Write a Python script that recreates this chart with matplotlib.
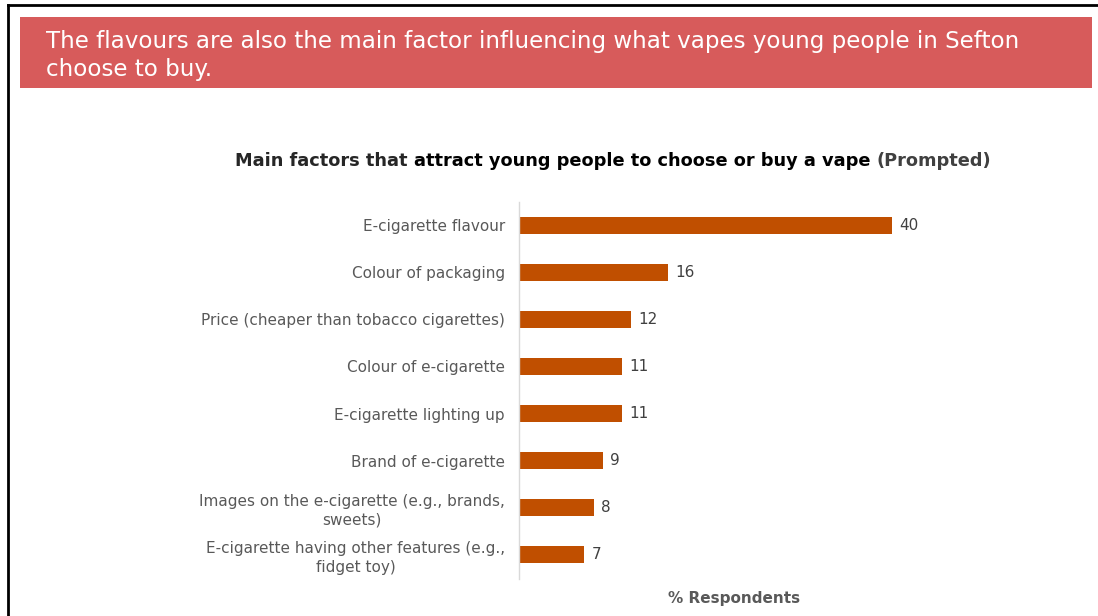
import matplotlib
matplotlib.use("Agg")
import matplotlib.pyplot as plt
from matplotlib.patches import Rectangle
from matplotlib.lines import Line2D

plt.rcParams["font.family"] = ["DejaVu Sans"]

# ── Data ──────────────────────────────────────────────────────────────────────
factors = [
    "E-cigarette flavour",
    "Colour of packaging",
    "Price (cheaper than tobacco cigarettes)",
    "Colour of e-cigarette",
    "E-cigarette lighting up",
    "Brand of e-cigarette",
    "Images on the e-cigarette (e.g., brands,\nsweets)",
    "E-cigarette having other features (e.g.,\nfidget toy)",
]
pct = [40, 16, 12, 11, 11, 9, 8, 7]

banner_text = ("The flavours are also the main factor influencing what vapes young people in Sefton\n"
               "choose to buy.")
title_parts = [
    ("Main factors that ", "#262626"),
    ("attract young people to choose or buy a vape ", "#000000"),
    ("(Prompted)", "#404040"),
]

W, H = 1098, 616
fig = plt.figure(figsize=(W / 100, H / 100), dpi=100)
fig.patch.set_facecolor("white")

# page frame
fig.add_artist(Line2D([8 / W, 8 / W], [0, 1 - 5 / H], transform=fig.transFigure,
                      color="black", linewidth=2))
fig.add_artist(Line2D([8 / W, 1], [1 - 5 / H, 1 - 5 / H], transform=fig.transFigure,
                      color="black", linewidth=2))

# red banner
fig.add_artist(Rectangle((20 / W, 1 - 88 / H), (1092 - 20) / W, 71 / H,
                         transform=fig.transFigure, facecolor="#D75B5B",
                         edgecolor="none"))
fig.text(46 / W, 1 - 55.5 / H, banner_text, color="white", fontsize=16.6,
         va="center", ha="left", linespacing=1.27)

# ── Axes ──────────────────────────────────────────────────────────────────────
ax = fig.add_axes([519 / W, 37.5 / H, 419.6 / W, 377 / H])
y = list(range(len(factors)))
ax.barh(y, pct, height=0.36, color="#C04F00", zorder=2)
ax.set_xlim(0, 45)
ax.set_ylim(len(factors) - 0.5, -0.5)

for yi, v in zip(y, pct):
    ax.text(v + 0.8, yi, str(v), va="center", ha="left", fontsize=11,
            color="#404040")

ax.set_yticks(y)
ax.set_yticklabels(factors, fontsize=11, color="#595959", multialignment="center",
                   linespacing=1.3)
ax.tick_params(axis="y", length=0, pad=10)
ax.set_xticks([])
for s in ["top", "right", "bottom"]:
    ax.spines[s].set_visible(False)
ax.spines["left"].set_color("#D9D9D9")
ax.spines["left"].set_linewidth(1)

fig.text(734 / W, 1 - 599 / H, "% Respondents", fontsize=11, fontweight="bold",
         color="#595959", ha="center", va="center")

# ── Title, drawn piecewise for its colours ────────────────────────────────────
fig.canvas.draw()
renderer = fig.canvas.get_renderer()
widths = []
for txt, col in title_parts:
    t = fig.text(0, 0, txt, fontsize=12.8, fontweight="bold")
    widths.append(t.get_window_extent(renderer).width)
    t.remove()
total = sum(widths)
x0 = 613 - total / 2
for (txt, col), w in zip(title_parts, widths):
    fig.text(x0 / W, 1 - 161 / H, txt, fontsize=12.8, fontweight="bold",
             color=col, ha="left", va="center")
    x0 += w

fig.savefig("out.png", dpi=100)
